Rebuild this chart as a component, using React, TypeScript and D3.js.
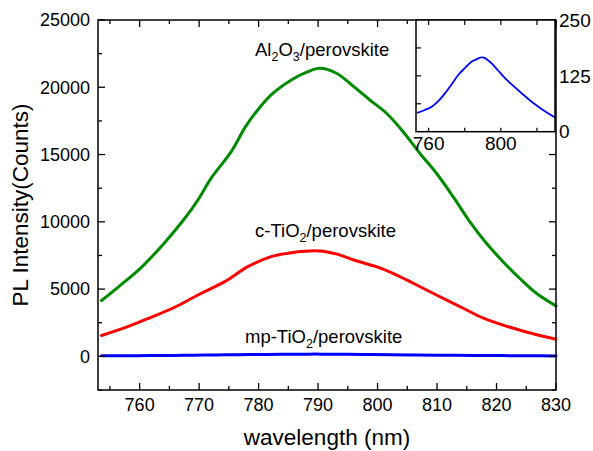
import React from 'react';
import * as d3 from 'd3';

const W = 593;
const H = 451;

// Main axes
const xTickValues = [760, 770, 780, 790, 800, 810, 820, 830];
const xMinorTicks = [755, 765, 775, 785, 795, 805, 815, 825];
const yTickValues = [0, 5000, 10000, 15000, 20000, 25000];
const yMinorTicks = [-2500, 2500, 7500, 12500, 17500, 22500];

// Al2O3/perovskite (green)
const alWl = [753.6, 756.4, 760.3, 764.2, 767.6, 769.8, 772, 775.4, 777.7, 779.3, 782.1, 785.5, 788.3, 790.3, 793.1, 796, 798.7, 801.5, 804.3, 807.1, 809.9, 812.7, 815.5, 818.3, 821.1, 823.9, 826.7, 830];
const alVals = [4150, 5150, 6620, 8453, 10265, 11624, 13234, 15217, 17000, 18000, 19428, 20543, 21162, 21410, 21040, 20044, 19056, 18067, 16700, 15095, 13608, 11869, 10011, 8406, 7038, 5804, 4690, 3750];

// c-TiO2/perovskite (red)
const cWl = [753.6, 758, 762, 765.9, 769.8, 774.3, 778.2, 782.1, 785.5, 790.2, 793.2, 796, 799.8, 802.6, 806, 809.9, 814.4, 818, 822, 826, 830];
const cVals = [1550, 2210, 2920, 3650, 4563, 5552, 6667, 7410, 7707, 7840, 7600, 7165, 6667, 6176, 5433, 4563, 3575, 2800, 2200, 1700, 1270];

// mp-TiO2/perovskite (blue)
const mpWl = [753.6, 757.5, 761.7, 765.5, 769.1, 772.8, 776.4, 780.2, 783.9, 786.5, 788.5, 790.5, 792.5, 794.9, 798.5, 802.3, 806.8, 811.5, 816.2, 820.8, 825.5, 830];
const mpVals = [42, 48, 56, 69, 86, 106, 127, 143, 157, 162, 166, 166, 161, 153, 137, 120, 103, 86, 70, 56, 43, 32];

// Inset axes
const insetXLabels = [760, 800];
const insetXTicks = [760, 780, 800, 820];
const insetYLabels = [0, 125, 250];
const insetYTicks = [62.5, 125, 187.5];

const FONT = '"Liberation Sans", Arial, Helvetica, sans-serif';

export default function App() {
  const L = 98, R = 556, T = 20, B = 390;
  const x = d3.scaleLinear().domain([753, 830]).range([L, R]);
  const y = d3.scaleLinear().domain([-2500, 25000]).range([B, T]);

  const line = d3
    .line<[number, number]>()
    .x((d) => x(d[0]))
    .y((d) => y(d[1]))
    .curve(d3.curveCatmullRom.alpha(0.5));

  const zip = (a: number[], b: number[]) => a.map((v, i) => [v, b[i]] as [number, number]);

  // inset
  const iL = 416, iR = 555, iT = 20, iB = 131.7;
  const xi = d3.scaleLinear().domain([753, 830]).range([iL, iR]);
  const yi = d3.scaleLinear().domain([0, 250]).range([iB, iT]);
  const lineI = d3
    .line<[number, number]>()
    .x((d) => xi(d[0]))
    .y((d) => yi(d[1]))
    .curve(d3.curveCatmullRom.alpha(0.5));

  const major = 7, minor = 4;

  return (
    <svg
      width={W}
      height={H}
      style={{ position: 'absolute', left: 0, top: 0, background: '#fff' }}
      fontFamily={FONT}
    >
      <rect x={0} y={0} width={W} height={H} fill="#fff" />
      {/* curves */}
      <g fill="none" strokeLinejoin="round" strokeLinecap="round">
        <path d={line(zip(alWl, alVals)) || ''} stroke="#008a00" strokeWidth={3} />
        <path d={line(zip(cWl, cVals)) || ''} stroke="#ff0000" strokeWidth={3} />
        <path d={line(zip(mpWl, mpVals)) || ''} stroke="#0000ff" strokeWidth={3} />
      </g>

      {/* frame */}
      <rect x={L} y={T} width={R - L} height={B - T} fill="none" stroke="#000" strokeWidth={1.5} />

      {/* ticks */}
      <g stroke="#000" strokeWidth={1.3}>
        {xTickValues.map((v) => (
          <g key={'xt' + v}>
            <line x1={x(v)} x2={x(v)} y1={B} y2={B - major} />
            <line x1={x(v)} x2={x(v)} y1={T} y2={T + major} />
          </g>
        ))}
        {xMinorTicks.map((v) => (
          <g key={'xm' + v}>
            <line x1={x(v)} x2={x(v)} y1={B} y2={B - minor} />
            <line x1={x(v)} x2={x(v)} y1={T} y2={T + minor} />
          </g>
        ))}
        {yTickValues.map((v) => (
          <g key={'yt' + v}>
            <line x1={L} x2={L + major} y1={y(v)} y2={y(v)} />
            <line x1={R} x2={R - major} y1={y(v)} y2={y(v)} />
          </g>
        ))}
        {yMinorTicks.map((v) => (
          <g key={'ym' + v}>
            <line x1={L} x2={L + minor} y1={y(v)} y2={y(v)} />
            <line x1={R} x2={R - minor} y1={y(v)} y2={y(v)} />
          </g>
        ))}
      </g>

      {/* tick labels */}
      <g fontSize={18} fill="#000">
        {xTickValues.map((v) => (
          <text key={'xl' + v} x={x(v)} y={411} textAnchor="middle">
            {v}
          </text>
        ))}
        {yTickValues.map((v) => (
          <text key={'yl' + v} x={90} y={y(v)} dy="0.35em" textAnchor="end">
            {v}
          </text>
        ))}
      </g>

      {/* axis titles */}
      <text x={(L + R) / 2} y={445} textAnchor="middle" fontSize={22.5}>
        wavelength (nm)
      </text>
      <text
        transform={`translate(28,${(T + B) / 2}) rotate(-90)`}
        textAnchor="middle"
        fontSize={22.5}
      >
        PL Intensity(Counts)
      </text>

      {/* annotations */}
      <g fontSize={18.5} fill="#000">
        <text x={255} y={56}>
          Al<tspan fontSize={12.5} dy={5}>2</tspan>
          <tspan dy={-5}>O</tspan>
          <tspan fontSize={12.5} dy={5}>3</tspan>
          <tspan dy={-5}>/perovskite</tspan>
        </text>
        <text x={255} y={237}>
          c-TiO<tspan fontSize={12.5} dy={5}>2</tspan>
          <tspan dy={-5}>/perovskite</tspan>
        </text>
        <text x={245} y={343}>
          mp-TiO<tspan fontSize={12.5} dy={5}>2</tspan>
          <tspan dy={-5}>/perovskite</tspan>
        </text>
      </g>

      {/* inset */}
      <rect x={iL} y={iT} width={iR - iL} height={iB - iT} fill="#fff" />
      <path
        d={lineI(zip(mpWl, mpVals)) || ''}
        fill="none"
        stroke="#0000ff"
        strokeWidth={1.8}
        strokeLinejoin="round"
      />
      <rect x={iL} y={iT} width={iR - iL} height={iB - iT} fill="none" stroke="#000" strokeWidth={1.5} />
      <g stroke="#000" strokeWidth={1.2}>
        {insetXTicks.map((v) => (
          <g key={'ixt' + v}>
            <line x1={xi(v)} x2={xi(v)} y1={iT} y2={iT + 5} />
            <line x1={xi(v)} x2={xi(v)} y1={iB} y2={iB - 4} />
          </g>
        ))}
        {insetYTicks.map((v) => (
          <line key={'iyt' + v} x1={iL} x2={iL + 5} y1={yi(v)} y2={yi(v)} />
        ))}
      </g>
      <g fontSize={19} fill="#000">
        {insetXLabels.map((v) => (
          <text key={'ixl' + v} x={xi(v)} y={150} textAnchor="middle">
            {v}
          </text>
        ))}
        {insetYLabels.map((v) => (
          <text key={'iyl' + v} x={559} y={yi(v)} dy="0.35em" textAnchor="start">
            {v}
          </text>
        ))}
      </g>
    </svg>
  );
}
